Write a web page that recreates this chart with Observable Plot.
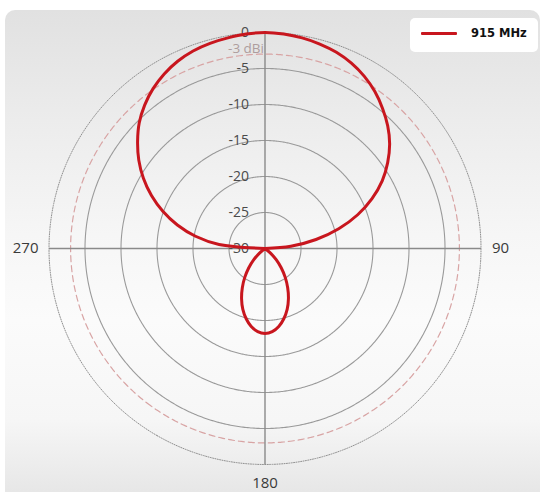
<!DOCTYPE html>
<html>
<head>
<meta charset="utf-8">
<script src="https://cdn.jsdelivr.net/npm/d3@7"></script>
<script src="https://cdn.jsdelivr.net/npm/@observablehq/plot@0.6"></script>
<style>
  html, body { margin: 0; padding: 0; background: #ffffff; }
  #wrap { position: relative; width: 545px; height: 492px; overflow: hidden; }
  #panel {
    position: absolute; left: 5px; top: 10px; width: 535px; height: 500px;
    border-radius: 10px;
    background: linear-gradient(to bottom, #e1e1e1 0%, #ececec 22%, #f6f6f6 45%, #fbfbfb 62%, #f6f6f6 82%, #e3e3e3 100%);
  }
  #chart { position: absolute; left: 0; top: 0; }
  #legend {
    position: absolute; left: 410px; top: 18px; width: 128px; height: 34px;
    background: #ffffff; border-radius: 5px;
  }
  #legend .sw { position: absolute; left: 11px; top: 14px; width: 36px; height: 3px; background: #c8161e; border-radius: 1px; }
  #legend .tx { position: absolute; left: 61px; top: 8px; line-height: 16px; font: bold 11.5px "DejaVu Sans", sans-serif; color: #111; white-space: nowrap; }
</style>
</head>
<body>
<div id="wrap">
  <div id="panel"></div>
  <div id="chart"></div>
  <div id="legend"><div class="sw"></div><div class="tx"></div></div>
</div>
<script>
// ---- data ----
const seriesNames = ["915 MHz"];

// main lobe, azimuth in degrees (clockwise from top), gain in dBi
const mainAngles = [270,275,280,285,290,295,300,305,310,315,320,325,330,335,340,345,350,355,
                    0,5,10,15,20,25,30,35,40,45,50,55,60,65,70,75,80,85,90];
const mainGain   = [-30,-23.6,-20.2,-17.4,-14.9,-12.6,-10.5,-8.6,-6.9,-5.3,-4.0,-2.9,-2.0,-1.3,-0.8,-0.5,-0.3,-0.1,
                    0,-0.1,-0.3,-0.6,-1.0,-1.6,-2.4,-3.4,-4.6,-5.9,-7.4,-9.2,-11.2,-13.6,-16.3,-19.4,-22.8,-26.4,-30];

// back lobe
const backAngles = [125,130,135,140,145,150,155,160,165,170,175,180,185,190,195,200,205,210,215,220,225,230,235];
const backGain   = [-30,-29.0,-27.8,-26.5,-25.1,-23.7,-22.3,-21.0,-19.9,-19.0,-18.4,-18.2,-18.4,-19.0,-19.9,-21.0,-22.3,-23.7,-25.1,-26.5,-27.8,-29.0,-30];

// radial tick values
const ringLevels  = [-5, -10, -15, -20, -25];
const labelLevels = [0, -5, -10, -15, -20, -25, -30];
const outerLevel  = 0;
const refLevel    = -3;
const minLevel    = -30;

// angular tick labels
const angleTicks  = [270, 90, 180];
const angleLabels = ["270", "90", "180"];

// ---- helpers mapping (azimuth, dB) onto the polar projection ----
const colat = d => (d - minLevel) * 2;          // degrees from the pole
const lat = d => 90 - colat(d);
const lon = a => 180 - a;
const circle = d => d3.geoCircle().center([0, 90]).radius(colat(d)).precision(0.5)();

const mainData = mainAngles.map((a, i) => ({angle: a, gain: mainGain[i]}));
const backData = backAngles.map((a, i) => ({angle: a, gain: backGain[i]}));
const axisPairs = [[270, 90], [0, 180]];
const angleData = angleTicks.map((a, i) => ({angle: a, label: angleLabels[i]}));
const red = "#c8161e";

document.querySelector("#legend .tx").textContent = seriesNames[0];

const chart = Plot.plot({
  width: 545,
  height: 492,
  marginLeft: 48.5,
  marginRight: 64.5,
  marginTop: 32,
  marginBottom: 28,
  projection: {
    type: "azimuthal-equidistant",
    rotate: [0, -90],
    domain: circle(outerLevel)
  },
  style: {background: "transparent", fontFamily: "'Open Sans', sans-serif", overflow: "visible"},
  marks: [
    Plot.geo(ringLevels, {geometry: circle, stroke: "#9a9a9a", strokeWidth: 1.1, fill: "none"}),
    Plot.geo([refLevel], {geometry: circle, stroke: "#d8a4a4", strokeWidth: 1.2, strokeDasharray: "6,4", fill: "none"}),
    Plot.geo([outerLevel], {geometry: circle, stroke: "#8f8f8f", strokeWidth: 1, strokeDasharray: "1,1.4", fill: "none"}),
    Plot.link(axisPairs, {
      x1: d => lon(d[0]), y1: () => lat(outerLevel),
      x2: d => lon(d[1]), y2: () => lat(outerLevel),
      stroke: "#8a8a8a", strokeWidth: 1.4
    }),
    Plot.text(labelLevels, {
      x: () => 180, y: d => lat(d), text: d => String(d),
      textAnchor: "end", dx: -16, fontSize: 14, fill: "#4a4a4a"
    }),
    Plot.text([refLevel], {
      x: () => 180, y: d => lat(d), text: d => `${d} dBi`,
      textAnchor: "end", dx: -1, dy: -5, fontSize: 13.5, fill: "#ae9d9d"
    }),
    Plot.text(angleData.filter(d => d.angle === 270), {
      x: d => lon(d.angle), y: () => lat(outerLevel), text: "label",
      textAnchor: "end", dx: -10.5, fontSize: 15, fill: "#3a3a3a"
    }),
    Plot.text(angleData.filter(d => d.angle === 90), {
      x: d => lon(d.angle), y: () => lat(outerLevel), text: "label",
      textAnchor: "start", dx: 11, fontSize: 15, fill: "#3a3a3a"
    }),
    Plot.text(angleData.filter(d => d.angle === 180), {
      x: d => lon(d.angle), y: () => lat(outerLevel), text: "label",
      textAnchor: "middle", dy: 19, fontSize: 15, fill: "#3a3a3a"
    }),
    Plot.line(mainData, {
      x: d => lon(d.angle), y: d => lat(d.gain),
      curve: "catmull-rom", stroke: red, strokeWidth: 3, strokeLinejoin: "round"
    }),
    Plot.line(backData, {
      x: d => lon(d.angle), y: d => lat(d.gain),
      curve: "catmull-rom", stroke: red, strokeWidth: 3, strokeLinejoin: "round"
    })
  ]
});
document.getElementById("chart").appendChild(chart);
</script>
</body>
</html>
